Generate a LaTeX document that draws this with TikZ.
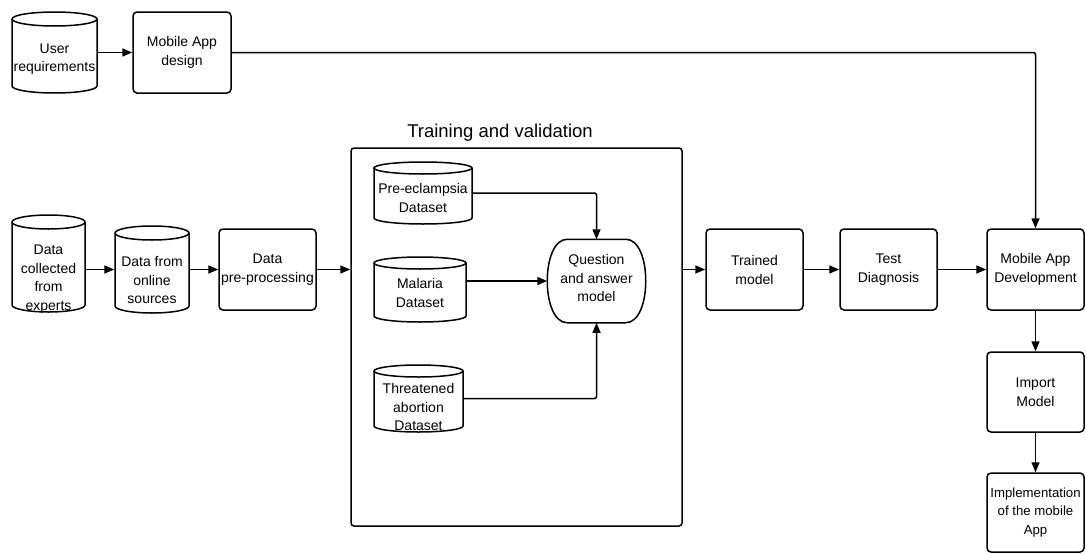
\documentclass[tikz,border=0pt]{standalone}
\usepackage{fontspec}
\setmainfont{Liberation Sans}
\usetikzlibrary{arrows.meta}
\newcommand\pbox[6]{%
  \node[box, minimum width={(#4)-(#2)}, minimum height={(#5)-(#3)}] (#1) at ({((#2)+(#4))/2},{-((#3)+(#5))/2}) {#6};}
\newcommand\pcyl[8]{% name x1 y1 x2 y2 ry texty text
  \node[ghost, minimum width={(#4)-(#2)}, minimum height={(#5)-(#3)}] (#1) at ({((#2)+(#4))/2},{-((#3)+(#5))/2}) {};
  \draw[fill=white] ({#2},{-(#3)-(#6)}) -- ({#2},{-(#5)+(#6)}) arc[start angle=180,end angle=360,x radius={((#4)-(#2))/2},y radius={#6}] -- ({#4},{-(#3)-(#6)});
  \draw ({((#2)+(#4))/2},{-(#3)-(#6)}) ellipse[x radius={((#4)-(#2))/2},y radius={#6}];
  \node[lbl] (#1-t) at ({((#2)+(#4))/2},{-(#7)}) {#8};}
\begin{document}
\begin{tikzpicture}[x=1pt,y=1pt,
  line width=1.5pt,
  box/.style={draw, rounded corners=4pt, align=center, font=\fontsize{14}{19}\selectfont, inner sep=0pt},
  ghost/.style={inner sep=0pt, draw=none},
  lbl/.style={align=center, font=\fontsize{14}{18.5}\selectfont, inner sep=0pt},
  arr/.style={-{Triangle[length=10pt,width=8pt]}, line width=1.5pt, rounded corners=2pt},
]
\useasboundingbox (0,0) rectangle (1086,-554);

% top row
\pcyl{ur}{12}{12}{97}{93}{7}{59}{User\\requirements}
\pbox{mad}{133}{12}{231}{93}{Mobile App\\design}

% main row
\pcyl{dce}{12}{215}{85}{312}{7}{279}{Data\\collected\\from\\experts}
\pcyl{dos}{115}{226}{189}{313}{7}{280}{Data from\\online\\sources}
\pbox{dpp}{219}{229}{316}{310}{Data\\pre-processing}

% training box
\node[draw, rounded corners=3pt, minimum width=331, minimum height=378, inner sep=0pt] (tv) at (516.5,-337) {};
\node[font=\fontsize{18.5}{22}\selectfont, inner sep=0pt] (tvt) at (500,-133) {Training and validation};
\pcyl{pre}{374}{162}{472}{224}{6}{198}{Pre-eclampsia\\Dataset}
\pcyl{mal}{374}{257}{466}{322}{6}{293}{Malaria\\Dataset}
\pcyl{thr}{374}{365}{463}{432}{6}{407}{Threatened\\abortion\\Dataset}
\node[ghost, minimum width=97, minimum height=82] (qa) at (596.5,-281) {};
\draw ([xshift=20pt]qa.north west) -- ([xshift=-20pt]qa.north east)
  .. controls ([xshift=6.67pt]qa.north east) and ([xshift=6.67pt]qa.south east) .. ([xshift=-20pt]qa.south east)
  -- ([xshift=20pt]qa.south west)
  .. controls ([xshift=-6.67pt]qa.south west) and ([xshift=-6.67pt]qa.north west) .. cycle;
\node[lbl] (qa-t) at (596.5,-278) {Question\\and answer\\model};

\pbox{tm}{706}{229}{803}{310}{Trained\\model}
\pbox{td}{840}{229}{937}{310}{Test\\Diagnosis}
\pbox{mdev}{987}{229}{1084}{310}{Mobile App\\Development}
\pbox{im}{987}{352}{1084}{432}{Import\\Model}
\node[box, minimum width=97, minimum height=79, font=\fontsize{13.2}{18.5}\selectfont] (impl) at (1035.5,-512.5) {Implementation\\of the mobile\\App};

% connectors
\draw[arr] (ur.east) -- (mad.west);
\draw[arr] (mad.east) -| (mdev.north);
\draw[arr] (dce.east |- dpp.west) -- (dos.west |- dpp.west);
\draw[arr] (dos.east |- dpp.west) -- (dpp.west);
\draw[arr] (dpp.east) -- (tv.west |- dpp.east);
\draw[arr] (tv.east |- tm.west) -- (tm.west);
\draw[arr] (tm.east) -- (td.west);
\draw[arr] (td.east) -- (mdev.west);
\draw[arr] (mdev.south) -- (im.north);
\draw[arr] (im.south) -- (impl.north);
\draw[arr] (pre.east) -| (qa.north);
\draw[arr] (mal.east |- qa.west) -- (qa.west);
\draw[arr] (thr.east) -| (qa.south);
\end{tikzpicture}
\end{document}
